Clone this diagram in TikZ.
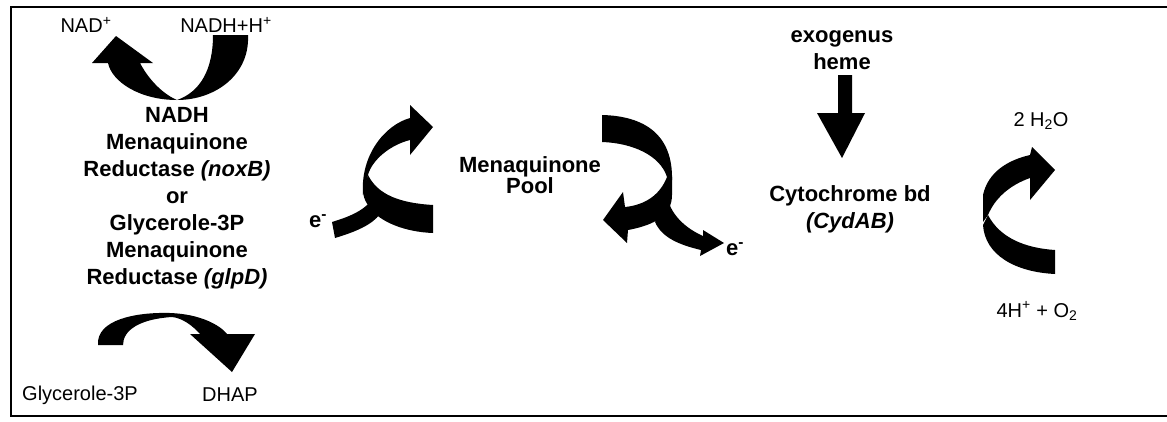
\documentclass[tikz,border=0pt]{standalone}
\usepackage{fontspec}
\setmainfont{Liberation Sans}
\usetikzlibrary{positioning}

\begin{document}
\begin{tikzpicture}[x=1pt, y=-1pt]

\tikzstyle{lbl}		=[inner sep=0pt, align=center, font=\fontsize{20}{24}\selectfont]
\tikzstyle{blbl}		=[lbl, font=\fontsize{22}{27}\selectfont\bfseries]
\tikzstyle{ribbon}	=[fill=black, draw=none]
\tikzstyle{frame}		=[line width=1.8pt, draw=black]

\useasboundingbox (0,0) rectangle (1167,421);
\draw[frame] (1167,7) -- (11,7) -- (11,416) -- (1167,416);

% left column
\node[lbl]  (nad)   at (86,25)   {NAD\textsuperscript{+}};
\node[lbl]  (nadh)  at (226,25)  {NADH+H\textsuperscript{+}};
\node[blbl] (enz)   at (177,198) {NADH\\Menaquinone\\Reductase \textit{(noxB)}\\or\\Glycerole-3P\\Menaquinone\\Reductase \textit{(glpD)}};
\node[lbl]  (g3p)   at (80,395)  {Glycerole-3P};
\node[lbl]  (dhap)  at (230,395) {DHAP};

% middle
\node[blbl] (ein)   at (318,221) {e\textsuperscript{-}};
\node[blbl, font=\fontsize{22}{21}\selectfont\bfseries] (pool) at (530,175) {Menaquinone\\Pool};
\node[blbl] (eout)  at (735,249) {e\textsuperscript{-}};

% right
\node[blbl] (heme)  at (842,50)  {exogenus\\heme};
\node[blbl] (cyd)   at (850,209) {Cytochrome bd\\\textit{(CydAB)}};
\node[lbl]  (water) at (1041,121) {2 H\textsubscript{2}O};
\node[lbl]  (oxy)   at (1037,311) {4H\textsuperscript{+} + O\textsubscript{2}};

% NADH -> NAD+
\fill[ribbon] (213,35) -- (248,35) .. controls (250,75) and (215,100) .. (177,100)
	.. controls (140,100) and (112,82) .. (108,63) -- (92,63) -- (116,36) -- (153,63) -- (140,63)
	.. controls (150,82) and (165,95) .. (177,100) .. controls (200,92) and (213,70) .. (213,35) -- cycle;

% Glycerole-3P -> DHAP
\fill[ribbon] (98,345) .. controls (96,320) and (135,312) .. (170,313)
	.. controls (200,314) and (220,325) .. (227,334) -- (255,334) -- (232,372) -- (190,334) -- (200,334)
	.. controls (192,325) and (182,318) .. (172,317) .. controls (140,319) and (123,330) .. (123,345) -- cycle;

% e- into the pool
\fill[ribbon] (363,195) .. controls (360,155) and (385,125) .. (410,118) -- (410,105) -- (433,127)
	-- (410,155) -- (410,140) .. controls (390,145) and (372,160) .. (368,175) -- cycle;
\fill[ribbon] (368,175) .. controls (378,195) and (400,203) .. (433,205) -- (433,233)
	.. controls (405,232) and (380,222) .. (370,208) .. controls (364,200) and (363,195) .. (363,190) -- cycle;
\fill[ribbon] (332,222) -- (335,238) .. controls (355,232) and (372,225) .. (380,214) -- (372,200)
	.. controls (362,212) and (348,217) .. (332,222) -- cycle;

% pool -> e-
\fill[ribbon] (602,115) .. controls (645,116) and (673,135) .. (672,180) -- (667,177)
	.. controls (660,155) and (632,143) .. (602,142) -- cycle;
\fill[ribbon] (667,177) .. controls (660,195) and (645,205) .. (625,207) -- (623,192) -- (603,220)
	-- (627,243) -- (628,230) .. controls (655,225) and (672,215) .. (672,195) -- (672,177) -- cycle;
\fill[ribbon] (668,200) .. controls (672,215) and (685,228) .. (703,236) -- (703,230) -- (724,243)
	-- (700,256) -- (701,250) .. controls (680,245) and (662,238) .. (655,222) -- cycle;

% heme
\fill[ribbon] (838,75) -- (852,75) -- (852,113) -- (865,113) -- (842,158) -- (817,113) -- (838,113) -- cycle;

% O2 -> H2O
\fill[ribbon] (983,222) -- (983,195) .. controls (988,172) and (1008,160) .. (1030,155) -- (1032,147)
	-- (1055,170) -- (1030,200) -- (1030,178) .. controls (1010,185) and (995,198) .. (988,215) -- cycle;
\fill[ribbon] (988,215) .. controls (1000,238) and (1025,248) .. (1055,250) -- (1055,274)
	.. controls (1015,272) and (985,255) .. (983,225) -- cycle;

\end{tikzpicture}
\end{document}
